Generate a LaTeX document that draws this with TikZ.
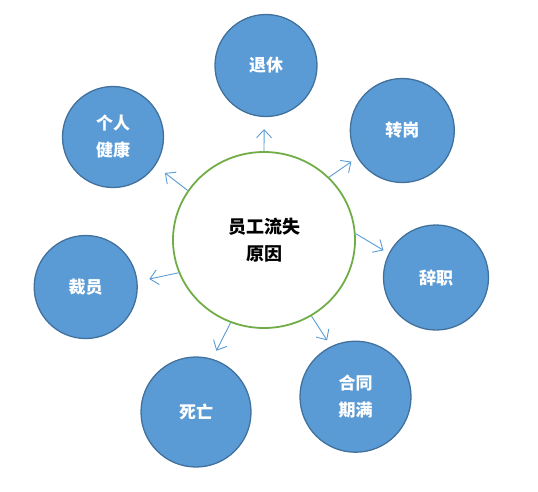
\documentclass[tikz,border=0pt]{standalone}
\usepackage{fontspec}
\newfontfamily\cjk{Noto Sans CJK SC}
\usetikzlibrary{shapes.geometric, arrows.meta}
\definecolor{cellblue}{HTML}{5B9BD5}
\definecolor{edgeblue}{HTML}{41719C}
\definecolor{ringgreen}{HTML}{70AD47}

\begin{document}
\begin{tikzpicture}[x=1pt, y=-1pt, font=\cjk\bfseries\fontsize{17}{27}\selectfont,
    reason/.style={circle, draw=edgeblue, fill=cellblue, line width=1.3pt,
      text=white, align=center, inner sep=0pt},
    push/.style={draw=cellblue, line width=0.9pt,
      -{Straight Barb[length=8pt,width=15pt]}}]
  \useasboundingbox (0,0) rectangle (538,491);
  % centre
  \node[ellipse, draw=ringgreen, line width=1.8pt, minimum width=182pt,
        minimum height=176pt, align=center,
        font=\cjk\bfseries\fontsize{18}{27}\selectfont] (core) at (264,240) {员工流失\\原因};
  % reasons around it
  \node[reason, minimum size=102pt] (tuixiu) at (266,65.5) {退休};
  \node[reason, minimum size=104pt] (zhuangang) at (402.3,130.5) {转岗};
  \node[reason, minimum size=105pt] (cizhi) at (436,277.5) {辞职};
  \node[reason, minimum size=111pt] (hetong) at (355.5,396.7) {合同\\期满};
  \node[reason, minimum size=110pt] (siwang) at (196,412) {死亡};
  \node[reason, minimum size=103pt] (caiyuan) at (85.7,287) {裁员};
  \node[reason, minimum size=101pt] (jiankang) at (113,137) {个人\\健康};
  % arrows
  \draw[push, shorten >=12pt] (core.90) -- (tuixiu.268);
  \draw[push, shorten >=7pt] (core.44) -- (zhuangang.211);
  \draw[push, shorten >=6pt] (core.4) -- (cizhi.153);
  \draw[push, shorten >=7pt] (core.302) -- (hetong.116);
  \draw[push, shorten >=9pt] (core.248) -- (siwang.73);
  \draw[push, shorten >=12pt] (core.201) -- (caiyuan.6);
  \draw[push, shorten >=12pt] (core.147) -- (jiankang.326);
\end{tikzpicture}
\end{document}
